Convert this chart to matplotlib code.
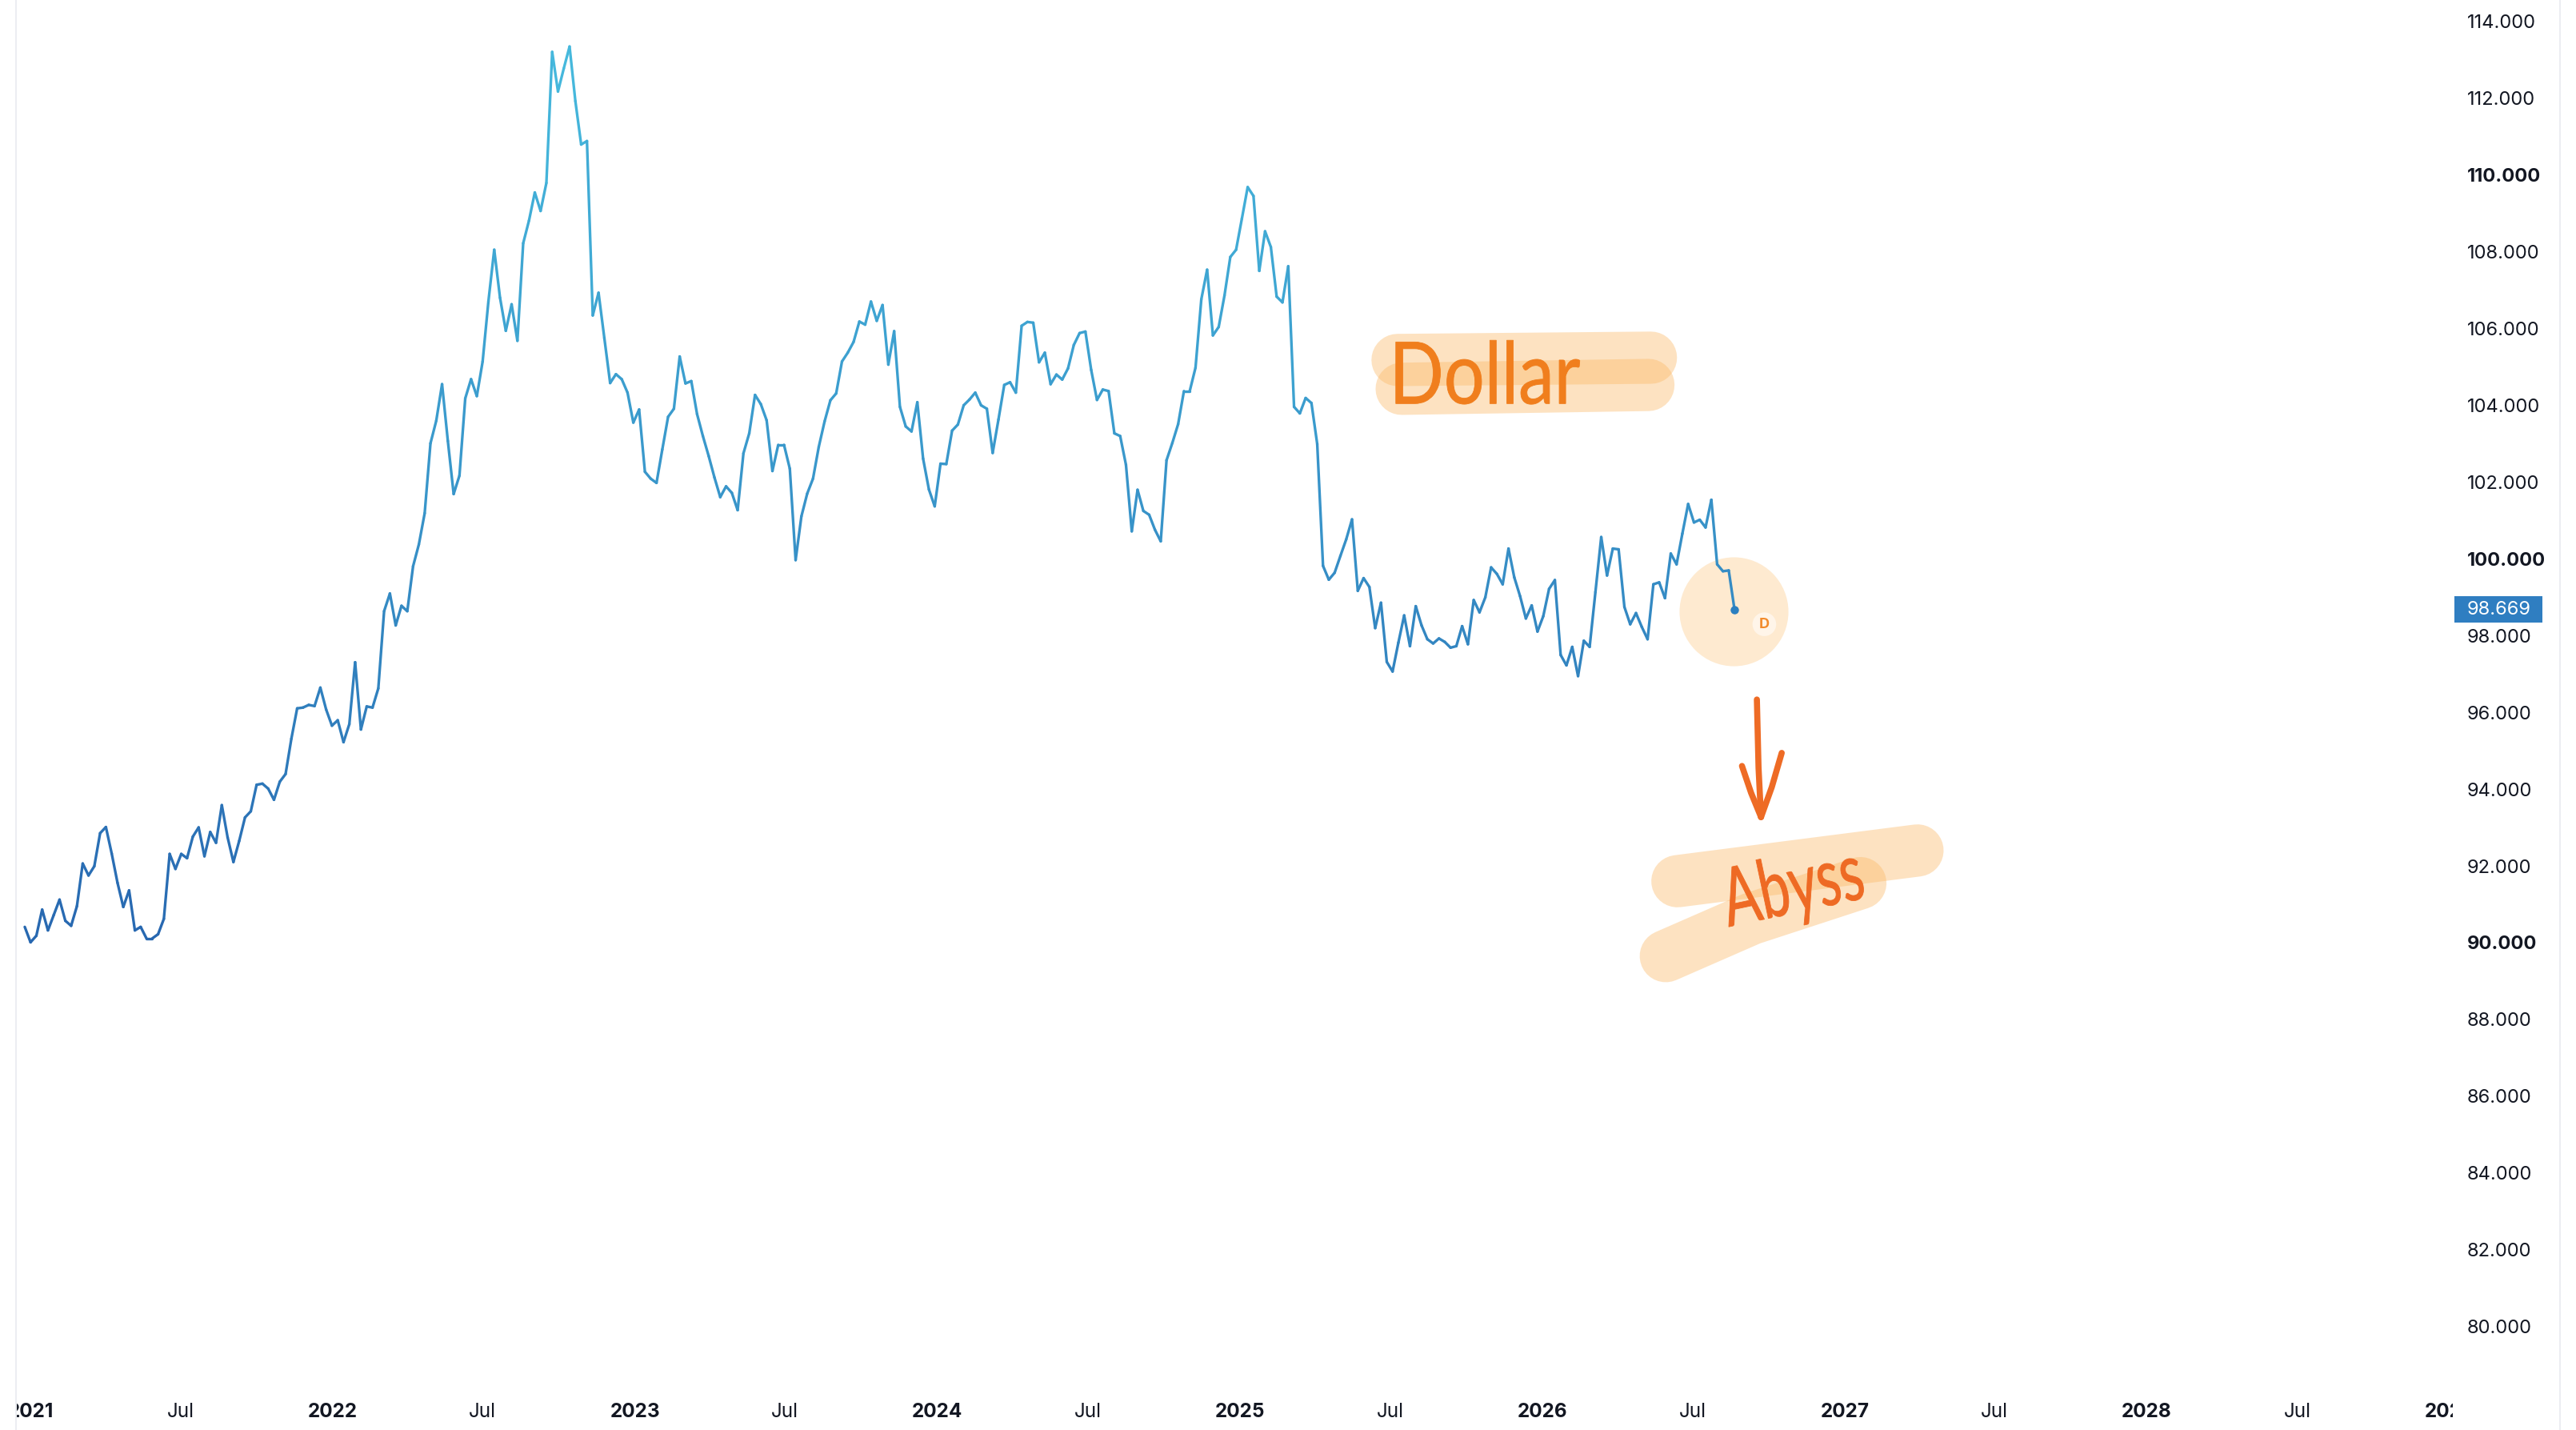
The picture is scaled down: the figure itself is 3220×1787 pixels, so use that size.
import numpy as np
import pandas as pd
import matplotlib
matplotlib.use("Agg")
import matplotlib.pyplot as plt
import matplotlib.dates as mdates
import matplotlib.transforms as mtransforms
from matplotlib.collections import LineCollection
from matplotlib.colors import LinearSegmentedColormap
from matplotlib.font_manager import FontProperties
from matplotlib.lines import Line2D
from matplotlib.patches import PathPatch, Rectangle
from matplotlib.textpath import TextPath

plt.rcParams['font.family'] = ['Inter', 'DejaVu Sans']

# Weekly closes (Dec 2020 -> Aug 2026)
dxy_2021 = [90.41, 90.01, 90.18, 90.86, 90.32, 90.72, 91.12, 90.57, 90.44, 90.95,
            92.06, 91.75, 91.99, 92.85, 93.01, 92.32, 91.56, 90.93, 91.36, 90.32,
            90.41, 90.11, 90.11, 90.22, 90.62, 92.31, 91.92, 92.31, 92.20, 92.76,
            93.00, 92.25, 92.88, 92.60, 93.58, 92.74, 92.10, 92.65, 93.26, 93.42,
            94.11, 94.14, 94.01, 93.72, 94.19, 94.39, 95.31, 96.10, 96.12, 96.19,
            96.16, 96.64, 96.07, 95.65, 95.79, 95.22, 95.69, 97.30, 95.55, 96.15,
            96.12, 96.62]
dxy_2022 = [98.63, 99.09, 98.26, 98.77, 98.63, 99.80, 100.37, 101.18, 103.00, 103.59,
            104.54, 103.06, 101.68, 102.16, 104.17, 104.67, 104.23, 105.13, 106.70, 108.04,
            106.79, 105.93, 106.62, 105.67, 108.21, 108.80, 109.53, 109.05, 109.78, 113.19,
            112.16, 112.76, 113.33, 111.91, 110.78, 110.87, 106.33, 106.92, 105.74, 104.57,
            104.80, 104.67, 104.32, 103.54, 103.88]
dxy_2023 = [102.26, 102.08, 101.97, 102.84, 103.69, 103.90, 105.26, 104.56, 104.62, 103.76,
            103.19, 102.67, 102.11, 101.60, 101.88, 101.71, 101.26, 102.74, 103.26, 104.26,
            104.02, 103.60, 102.28, 102.96, 102.96, 102.34, 99.96, 101.10, 101.69, 102.08,
            102.91, 103.57, 104.12, 104.30, 105.13, 105.36, 105.64, 106.17, 106.09, 106.69,
            106.19, 106.60, 105.05, 105.92, 103.95, 103.44, 103.31, 104.07, 102.60, 101.80,
            101.36, 102.47, 102.46, 103.33, 103.49, 103.99, 104.14, 104.32, 103.99, 103.90]
dxy_2024 = [102.75, 103.62, 104.52, 104.59, 104.32, 106.06, 106.16, 106.14, 105.11, 105.36,
            104.54, 104.79, 104.66, 104.95, 105.56, 105.87, 105.91, 104.91, 104.13, 104.40,
            104.36, 103.26, 103.19, 102.44, 100.71, 101.79, 101.24, 101.14, 100.75, 100.45,
            102.56, 103.01, 103.50, 104.36, 104.36, 104.97, 106.75, 107.52, 105.81, 106.03,
            106.85, 107.85, 108.04, 108.85, 109.67, 109.44, 107.49, 108.52, 108.11, 106.82,
            106.67, 107.61, 103.95, 103.78, 104.18, 104.05, 102.98, 99.81, 99.45, 99.63,
            100.07, 100.50, 101.02]
dxy_2025_26 = [99.16, 99.49, 99.26, 98.19, 98.85, 97.31, 97.06, 97.81, 98.52, 97.72,
               98.76, 98.26, 97.90, 97.79, 97.92, 97.83, 97.68, 97.72, 98.24, 97.77,
               98.92, 98.60, 98.99, 99.77, 99.60, 99.33, 100.26, 99.51, 99.02, 98.44,
               98.78, 98.10, 98.50, 99.21, 99.44, 97.49, 97.22, 97.70, 96.94, 97.86,
               97.70, 99.13, 100.56, 99.56, 100.26, 100.24, 98.74, 98.29, 98.58, 98.22,
               97.90, 99.33, 99.38, 98.97, 100.13, 99.85, 100.65, 101.42, 100.94, 101.01,
               100.81, 101.53, 99.85, 99.67, 99.69, 98.669]
last_week = "2026-08-21"
last_label = "98.669"

tick_dates = ["2021-01-01", "2021-07-01", "2022-01-01", "2022-07-01", "2023-01-01",
              "2023-07-01", "2024-01-01", "2024-07-01", "2025-01-01", "2025-07-01",
              "2026-01-01", "2026-07-01", "2027-01-01", "2027-07-01", "2028-01-01",
              "2028-07-01", "2029-01-01"]
tick_labels = ["2021", "Jul", "2022", "Jul", "2023", "Jul", "2024", "Jul", "2025", "Jul",
               "2026", "Jul", "2027", "Jul", "2028", "Jul", "2029"]
price_ticks = [80, 82, 84, 86, 88, 90, 92, 94, 96, 98, 100, 102, 104, 106, 108, 110, 112, 114]
bold_prices = [90, 100, 110]

values = np.array(dxy_2021 + dxy_2022 + dxy_2023 + dxy_2024 + dxy_2025_26)
dates = pd.date_range(end=last_week, periods=len(values), freq="W-FRI")

W, H = 3220, 1787
fig = plt.figure(figsize=(W / 100, H / 100), dpi=100)
fig.patch.set_facecolor("white")
ax_left, ax_right, ax_bottom = 20 / W, 3066 / W, (H - 1725) / H
ax = fig.add_axes([ax_left, ax_bottom, ax_right - ax_left, 1 - ax_bottom])
for s in ax.spines.values():
    s.set_visible(False)
pane_w = 3066 - 20

ax.set_xlim(mdates.date2num(pd.Timestamp("2020-12-14 10:00")),
            mdates.date2num(pd.Timestamp("2029-01-04 12:00")))
ax.set_ylim(78.604, 114.542)

# gradient line, darker at low prices, lighter at high prices
x = mdates.date2num(dates)
pts = np.column_stack([x, values]).reshape(-1, 1, 2)
segs = np.concatenate([pts[:-1], pts[1:]], axis=1)
cmap = LinearSegmentedColormap.from_list("dxy", ["#2767b0", "#3894c9", "#46b9dd"])
lc = LineCollection(segs, cmap=cmap, norm=plt.Normalize(90, 113), linewidths=2.4,
                    capstyle="round", joinstyle="round", zorder=4)
lc.set_array((values[:-1] + values[1:]) / 2)
ax.add_collection(lc)


def at(date, price):
    return mdates.date2num(pd.Timestamp(date)), price


# highlight circle around the last close and the end dot
cx, cy = at("2026-08-20", values[-1] - 0.04)
ax.plot([cx], [cy], "o", ms=98, color="#feead0", mec="none", zorder=2)
ax.plot([x[-1]], [values[-1]], "o", ms=7.5, color="#2b7fc0", mec="none", zorder=5)
ax.text(*at("2026-09-26", 98.29), "D", color="#f28b2c", fontsize=13, fontweight="bold",
        ha="center", va="center", zorder=6,
        bbox=dict(boxstyle="circle,pad=0.35", fc="#fff5e9", ec="none"))

# axes ticks
ax.set_xticks(mdates.date2num(pd.to_datetime(tick_dates)))
ax.set_xticklabels(tick_labels)
ax.tick_params(axis="x", length=0, pad=20, labelsize=17.5, labelcolor="#131722")
for lab, txt in zip(ax.get_xticklabels(), tick_labels):
    if txt != "Jul":
        lab.set_fontweight("bold")

ax.yaxis.tick_right()
ax.set_yticks(price_ticks)
ax.set_yticklabels([f"{p:.3f}" for p in price_ticks])
ax.tick_params(axis="y", length=0, pad=13, labelsize=17, labelcolor="#131722")
for lab, p in zip(ax.get_yticklabels(), price_ticks):
    if p in bold_prices:
        lab.set_fontweight("bold")

# last price tag on the price scale
tag_tr = mtransforms.blended_transform_factory(ax.transAxes, ax.transData)
ax.add_patch(Rectangle((1 + 2 / pane_w, values[-1] - 0.345), 110 / pane_w, 0.69,
                       transform=tag_tr, fc="#2f7ec1", ec="none", clip_on=False, zorder=6))
ax.text(1 + 18 / pane_w, values[-1], last_label, transform=tag_tr, color="white",
        fontsize=17, ha="left", va="center", clip_on=False, zorder=7)

# hand drawn marks
hl_color = "#fbb865"


def stroke(points, lw, color, alpha=1.0, z=1):
    xs, ys = zip(*[at(d, p) for d, p in points])
    ax.plot(xs, ys, color=color, alpha=alpha, lw=lw, solid_capstyle="round",
            solid_joinstyle="round", zorder=z, clip_on=False)


stroke([("2025-07-10", 105.17), ("2026-05-12", 105.23)], 47, hl_color, 0.4)
stroke([("2025-07-15", 104.42), ("2026-05-09", 104.52)], 47, hl_color, 0.4)
stroke([("2026-06-13", 91.60), ("2027-03-30", 92.40)], 47, hl_color, 0.4)
stroke([("2026-05-30", 89.65), ("2026-09-10", 90.62), ("2027-01-20", 91.55)], 47, hl_color, 0.4)

arrow_color = "#ee6b25"
stroke([("2026-09-17", 96.33), ("2026-09-19", 94.55), ("2026-09-22", 93.27)], 5.5, arrow_color, z=6)
stroke([("2026-08-30", 94.60), ("2026-09-10", 93.90), ("2026-09-22", 93.27)], 5.5, arrow_color, z=6)
stroke([("2026-10-17", 94.94), ("2026-10-05", 94.05), ("2026-09-22", 93.27)], 5.5, arrow_color, z=6)

hand_font = FontProperties(family="Lato")


def hand_text(s, date, price, w_px, h_px, angle, color):
    path = TextPath((0, 0), s, size=100, prop=hand_font)
    ext = path.get_extents()
    px, py = ax.transData.transform(at(date, price))
    tr = (mtransforms.Affine2D()
          .translate(-(ext.x0 + ext.x1) / 2, -(ext.y0 + ext.y1) / 2)
          .scale(w_px / ext.width, h_px / ext.height)
          .rotate_deg(angle)
          .translate(px, py))
    fig.add_artist(PathPatch(path, transform=tr, fc=color, ec=color, lw=0.6, zorder=8))


hand_text("Dollar", "2025-10-27", 104.85, 230, 80, 0, "#f07e1d")
hand_text("Abyss", "2026-10-30", 91.375, 175, 92, 12, "#ee6a24")

# time labels are cut at the pane edges
fig.add_artist(Rectangle((0, 0), 20 / W, ax_bottom, transform=fig.transFigure,
                         fc="white", ec="none", zorder=10))
fig.add_artist(Rectangle((3066 / W, 0), 1 - 3066 / W, ax_bottom, transform=fig.transFigure,
                         fc="white", ec="none", zorder=10))

# chart frame lines
for xf in (20 / W, 3200 / W):
    fig.add_artist(Line2D([xf, xf], [0, 1], transform=fig.transFigure, color="#eceef2",
                          lw=1.5, zorder=11))

fig.savefig("out.png", dpi=100, facecolor="white")
